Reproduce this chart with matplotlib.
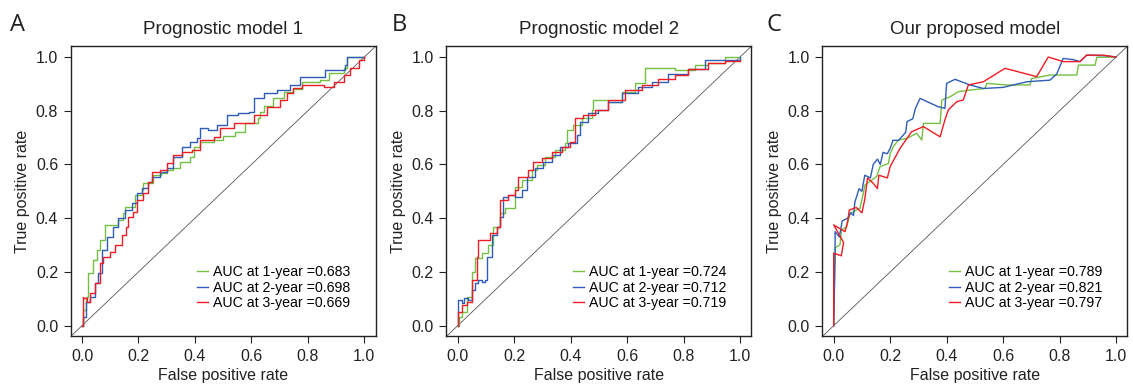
import matplotlib
matplotlib.use("Agg")
import matplotlib.pyplot as plt

plt.rcParams['font.family'] = ['Liberation Sans', 'DejaVu Sans']

titles = ["Prognostic model 1", "Prognostic model 2", "Our proposed model"]
panel_letters = ["A", "B", "C"]
series_names = ["AUC at 1-year", "AUC at 2-year", "AUC at 3-year"]
auc_values = [["0.683", "0.698", "0.669"],
              ["0.724", "0.712", "0.719"],
              ["0.789", "0.821", "0.797"]]
colors = ["#74c043", "#2e5cb8", "#ee1c24"]

# ---- Panel A curves (FPR, TPR) ----
a1_fpr = [0, 0.005, 0.014, 0.022, 0.04, 0.052, 0.064, 0.082, 0.123, 0.129, 0.147, 0.152, 0.176, 0.188, 0.212,
          0.215, 0.241, 0.253, 0.28, 0.3, 0.324, 0.348, 0.383, 0.395, 0.418, 0.466, 0.501, 0.543, 0.578, 0.625,
          0.631, 0.643, 0.678, 0.714, 0.749, 0.779, 0.844, 0.874, 0.927, 0.939, 1.0]
a1_tpr = [0, 0.058, 0.108, 0.195, 0.244, 0.282, 0.319, 0.375, 0.375, 0.393, 0.418, 0.443, 0.443, 0.486, 0.505,
          0.532, 0.532, 0.561, 0.567, 0.579, 0.586, 0.610, 0.629, 0.666, 0.685, 0.691, 0.706, 0.722, 0.753, 0.772,
          0.797, 0.818, 0.846, 0.871, 0.88, 0.908, 0.914, 0.939, 0.958, 0.999, 1.0]
a2_fpr = [0, 0.005, 0.014, 0.028, 0.046, 0.058, 0.07, 0.087, 0.111, 0.129, 0.152, 0.176, 0.194, 0.212, 0.235,
          0.248, 0.277, 0.3, 0.324, 0.353, 0.383, 0.407, 0.418, 0.448, 0.478, 0.513, 0.554, 0.59, 0.608, 0.643,
          0.69, 0.738, 0.773, 0.844, 0.861, 0.933, 0.939, 1.0]
a2_tpr = [0, 0.033, 0.089, 0.108, 0.158, 0.195, 0.282, 0.331, 0.368, 0.4, 0.43, 0.455, 0.493, 0.511, 0.536,
          0.555, 0.573, 0.586, 0.629, 0.666, 0.685, 0.697, 0.734, 0.728, 0.747, 0.784, 0.79, 0.797, 0.846, 0.865,
          0.877, 0.896, 0.924, 0.924, 0.952, 0.97, 0.999, 1.0]
a3_fpr = [0, 0.002, 0.005, 0.019, 0.028, 0.046, 0.064, 0.076, 0.099, 0.117, 0.141, 0.156, 0.164, 0.182, 0.194,
          0.217, 0.235, 0.248, 0.277, 0.3, 0.324, 0.353, 0.389, 0.418, 0.466, 0.489, 0.537, 0.608, 0.655, 0.702,
          0.726, 0.749, 0.779, 0.856, 0.891, 0.927, 0.95, 0.98, 1.0]
a3_tpr = [0, 0.108, 0.102, 0.089, 0.12, 0.158, 0.232, 0.257, 0.275, 0.3, 0.337, 0.368, 0.406, 0.424, 0.468,
          0.493, 0.536, 0.573, 0.579, 0.604, 0.635, 0.648, 0.654, 0.691, 0.703, 0.734, 0.753, 0.784, 0.815, 0.84,
          0.865, 0.883, 0.896, 0.89, 0.908, 0.933, 0.958, 0.989, 1.0]

# ---- Panel B curves ----
b1_fpr = [0, 0.005, 0.014, 0.032, 0.05, 0.061, 0.085, 0.109, 0.126, 0.15, 0.168, 0.197, 0.203, 0.227, 0.256,
          0.262, 0.28, 0.309, 0.345, 0.38, 0.386, 0.41, 0.439, 0.475, 0.481, 0.534, 0.581, 0.628, 0.664, 0.77,
          0.841, 0.888, 0.947, 1.0]
b1_tpr = [0, 0.033, 0.052, 0.108, 0.2, 0.251, 0.269, 0.3, 0.368, 0.418, 0.437, 0.437, 0.517, 0.542, 0.542,
          0.579, 0.598, 0.629, 0.654, 0.679, 0.728, 0.747, 0.772, 0.803, 0.84, 0.834, 0.871, 0.902, 0.958, 0.952,
          0.97, 0.976, 1.0, 1.0]
b2_fpr = [0, 0.002, 0.014, 0.024, 0.038, 0.05, 0.061, 0.073, 0.085, 0.097, 0.103, 0.12, 0.138, 0.15, 0.162,
          0.179, 0.203, 0.227, 0.244, 0.274, 0.303, 0.333, 0.362, 0.392, 0.421, 0.433, 0.463, 0.498, 0.534, 0.581,
          0.64, 0.687, 0.746, 0.817, 0.876, 0.935, 1.0]
b2_tpr = [0, 0.096, 0.083, 0.102, 0.096, 0.133, 0.158, 0.17, 0.164, 0.17, 0.257, 0.337, 0.368, 0.406, 0.48,
          0.486, 0.48, 0.505, 0.555, 0.586, 0.61, 0.635, 0.666, 0.679, 0.71, 0.759, 0.79, 0.803, 0.834, 0.865,
          0.89, 0.908, 0.938, 0.957, 0.989, 0.989, 1.0]
b3_fpr = [0, 0.002, 0.014, 0.032, 0.05, 0.067, 0.073, 0.097, 0.115, 0.138, 0.15, 0.179, 0.203, 0.215, 0.25,
          0.268, 0.298, 0.333, 0.368, 0.398, 0.416, 0.445, 0.486, 0.534, 0.593, 0.652, 0.711, 0.77, 0.817, 0.888,
          0.947, 1.0]
b3_tpr = [0, 0.052, 0.077, 0.089, 0.17, 0.257, 0.319, 0.319, 0.344, 0.368, 0.468, 0.486, 0.505, 0.555, 0.579,
          0.61, 0.623, 0.648, 0.666, 0.685, 0.772, 0.784, 0.803, 0.84, 0.877, 0.896, 0.92, 0.933, 0.957, 0.976,
          0.986, 0.988]

# ---- Panel C curves ----
c1_fpr = [0, 0.004, 0.005, 0.022, 0.028, 0.046, 0.058, 0.093, 0.105, 0.111, 0.152, 0.164, 0.194, 0.2, 0.211,
          0.229, 0.259, 0.294, 0.312, 0.318, 0.377, 0.383, 0.412, 0.441, 0.483, 0.536, 0.542, 0.613, 0.695, 0.701,
          0.766, 0.861, 0.867, 0.926, 0.932, 1.0]
c1_tpr = [0, 0.232, 0.29, 0.3, 0.356, 0.368, 0.418, 0.437, 0.493, 0.524, 0.555, 0.592, 0.604, 0.641, 0.666,
          0.691, 0.697, 0.716, 0.691, 0.753, 0.753, 0.84, 0.852, 0.871, 0.877, 0.883, 0.902, 0.896, 0.896, 0.92,
          0.933, 0.933, 0.97, 0.97, 0.999, 1.0]
c2_fpr = [0, 0.005, 0.005, 0.02, 0.03, 0.05, 0.06, 0.07, 0.075, 0.09, 0.1, 0.11, 0.13, 0.14, 0.155, 0.165,
          0.175, 0.19, 0.2, 0.21, 0.23, 0.255, 0.26, 0.28, 0.29, 0.306, 0.37, 0.394, 0.4, 0.43, 0.483, 0.53, 0.6,
          0.684, 0.766, 0.79, 0.813, 0.85, 0.872, 0.896, 0.96, 1.0]
c2_tpr = [0, 0.27, 0.35, 0.33, 0.39, 0.4, 0.42, 0.41, 0.46, 0.51, 0.5, 0.56, 0.55, 0.6, 0.62, 0.6, 0.645,
          0.64, 0.66, 0.69, 0.69, 0.72, 0.76, 0.77, 0.81, 0.846, 0.815, 0.809, 0.902, 0.917, 0.896, 0.883, 0.887,
          0.908, 0.914, 0.937, 0.995, 0.99, 0.983, 1.007, 1.005, 1.0]
c3_fpr = [0, 0, 0.027, 0.035, 0, 0.04, 0.05, 0.055, 0.08, 0.1, 0.11, 0.12, 0.14, 0.155, 0.16, 0.19, 0.2,
          0.235, 0.276, 0.318, 0.377, 0.394, 0.406, 0.436, 0.459, 0.477, 0.53, 0.607, 0.719, 0.76, 0.813, 0.872,
          0.896, 0.955, 1.0]
c3_tpr = [0, 0.27, 0.26, 0.31, 0.375, 0.35, 0.39, 0.43, 0.44, 0.42, 0.47, 0.55, 0.53, 0.51, 0.56, 0.55, 0.592,
          0.66, 0.722, 0.741, 0.703, 0.766, 0.803, 0.834, 0.84, 0.896, 0.908, 0.958, 0.927, 1.0, 0.983, 0.983,
          1.007, 1.007, 1.0]

panels = [
    [(a1_fpr, a1_tpr), (a2_fpr, a2_tpr), (a3_fpr, a3_tpr)],
    [(b1_fpr, b1_tpr), (b2_fpr, b2_tpr), (b3_fpr, b3_tpr)],
    [(c1_fpr, c1_tpr), (c2_fpr, c2_tpr), (c3_fpr, c3_tpr)],
]
draw_styles = ["steps-post", "steps-post", "default"]

W, H = 1133, 391
fig = plt.figure(figsize=(W / 100, H / 100), dpi=100)

x0_px = [82.0, 457.7, 833.7]
scale_x = 282.3
top_px, bottom_px = 46.3, 336.4

for i in range(3):
    left = x0_px[i] - 0.04 * scale_x
    width = 1.08 * scale_x
    ax = fig.add_axes([left / W, 1 - bottom_px / H, width / W, (bottom_px - top_px) / H])
    ax.plot([-1, 2], [-1, 2], color="#555555", lw=0.6, zorder=1)
    for j, (fpr, tpr) in enumerate(panels[i]):
        ax.plot(fpr, tpr, color=colors[j], lw=1.0, zorder=2 + j, drawstyle=draw_styles[i],
                label=f"{series_names[j]} ={auc_values[i][j]}")
    ax.set_xlim(-0.04, 1.04)
    ax.set_ylim(-0.04, 1.04)
    ticks = [0, 0.2, 0.4, 0.6, 0.8, 1.0]
    ax.set_xticks(ticks)
    ax.set_yticks(ticks)
    ax.set_xticklabels([f"{t:.1f}" for t in ticks])
    ax.set_yticklabels([f"{t:.1f}" for t in ticks])
    ax.tick_params(direction="out", length=5, width=0.8, labelsize=11.5, colors="#222222", pad=4)
    for s in ax.spines.values():
        s.set_linewidth(1.0)
        s.set_color("#222222")
    ax.set_xlabel("False positive rate", fontsize=11.5, color="#222222", labelpad=3)
    ax.set_ylabel("True positive rate", fontsize=11.5, color="#222222", labelpad=4)
    ax.set_title(titles[i], fontsize=13.5, color="#222222", pad=9)
    ax.legend(loc="lower left", bbox_to_anchor=(0.415, 0.09), frameon=False, fontsize=10.2,
              handlelength=0.75, handletextpad=0.35, labelspacing=0.12, borderaxespad=0,
              borderpad=0)
    lx = [10, 392, 767][i]
    fig.text(lx / W, 1 - 31 / H, panel_letters[i], fontsize=17, color="#222222",
             family=["Open Sans", "DejaVu Sans"], ha="left", va="baseline")

fig.savefig("out.png", dpi=100)
